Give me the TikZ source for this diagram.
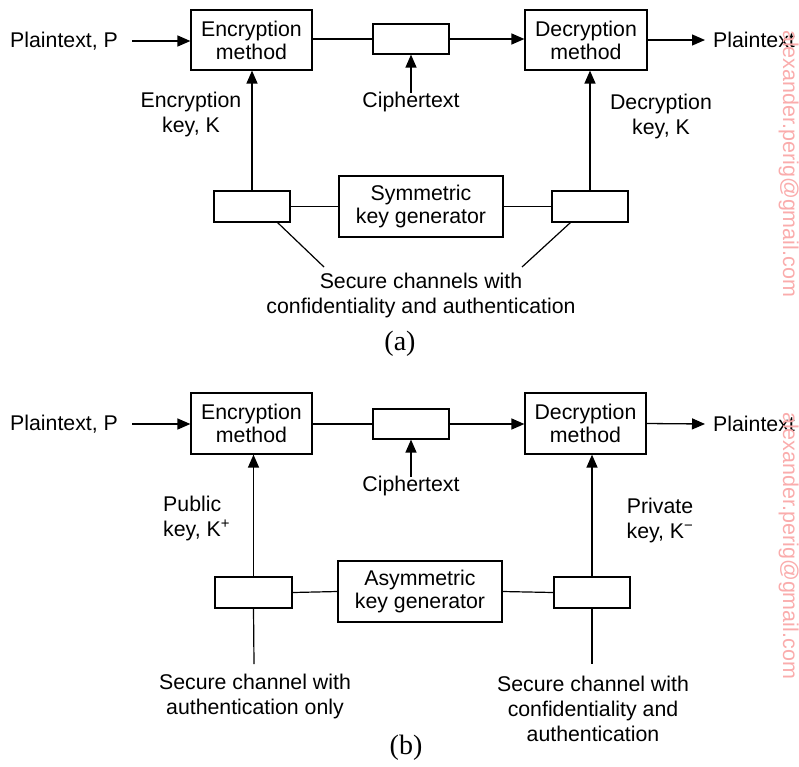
\documentclass[tikz,border=0pt]{standalone}
\usepackage{fontspec}
\setmainfont{Liberation Sans}
\newfontfamily\capfont{Liberation Serif}
\usetikzlibrary{arrows.meta}
\definecolor{wm}{RGB}{250,172,172}
\begin{document}
\begin{tikzpicture}[x=1pt,y=-1pt,
  every node/.style={font=\fontsize{21.3}{25}\selectfont},
  box/.style={draw, line width=1.2pt, inner sep=0pt, align=center},
  lbl/.style={inner sep=2pt, align=center},
  conn/.style={line width=1.2pt},
  arr/.style={line width=1.3pt, -{Triangle[length=13pt,width=11pt]}},
  capt/.style={font=\capfont\fontsize{28}{30}\selectfont, inner sep=0pt},
  wmark/.style={text=wm, rotate=-90, anchor=base west, inner sep=0pt, font=\fontsize{21.5}{24}\selectfont}]
\useasboundingbox (0,0) rectangle (799,766);

% ---------------- (a) ----------------
\node[box, minimum width=121pt, minimum height=60pt] (enc) at (251.5,40) {Encryption\\[-2pt]method};
\node[box, minimum width=76pt, minimum height=30pt] (ct) at (411,39) {};
\node[box, minimum width=122pt, minimum height=60pt] (dec) at (586,40) {Decryption\\[-2pt]method};
\node[lbl, anchor=west] (pin) at (8,41) {Plaintext, P};
\node[lbl, anchor=west] (pout) at (711,40) {Plaintext};
\draw[arr] ([xshift=12pt]pin.east) -- (enc.west |- pin.east);
\draw[conn] (enc.east |- ct.west) -- (ct.west);
\draw[arr] (ct.east) -- (dec.west |- ct.east);
\draw[arr] (dec.east) -- ([xshift=-6pt]pout.west);
\node[lbl] (ctl) at (411,102) {Ciphertext};
\draw[arr] ([yshift=-3pt]ctl.north) -- (ct.south);
\node[lbl] (ekl) at (191,114) {Encryption\\key, K};
\node[lbl] (dkl) at (661,116) {Decryption\\key, K};
\node[box, minimum width=76pt, minimum height=31pt] (kl) at (252,206.5) {};
\node[box, minimum width=164pt, minimum height=61pt] (sym) at (421,206.5) {Symmetric\\[-2pt]key generator};
\node[box, minimum width=76pt, minimum height=31pt] (kr) at (590,206.5) {};
\draw[arr] (kl.north) -- (kl.north |- enc.south);
\draw[arr] (kr.north) -- (kr.north |- dec.south);
\draw[conn] (kl.east) -- (sym.west);
\draw[conn] (sym.east) -- (kr.west);
\node[lbl] (scl) at (421,295.5) {Secure channels with\\confidentiality and authentication};
\coordinate (d1) at (324,267);
\coordinate (d2) at (522,267);
\draw[conn] ([xshift=-13pt]kl.south east) -- (d1);
\draw[conn] ([xshift=19pt]kr.south west) -- (d2);
\node[capt] (capa) at (400,344) {(a)};

% ---------------- (b) ----------------
\node[box, minimum width=121pt, minimum height=61pt] (enc2) at (251.5,423.5) {Encryption\\[-2pt]method};
\node[box, minimum width=76pt, minimum height=30pt] (ct2) at (411,424) {};
\node[box, minimum width=121pt, minimum height=61pt] (dec2) at (585.5,423.5) {Decryption\\[-2pt]method};
\node[lbl, anchor=west] (pin2) at (8,424) {Plaintext, P};
\node[lbl, anchor=west] (pout2) at (711,424) {Plaintext};
\draw[arr] ([xshift=12pt]pin2.east) -- (enc2.west |- pin2.east);
\draw[conn] (enc2.east |- ct2.west) -- (ct2.west);
\draw[arr] (ct2.east) -- (dec2.west |- ct2.east);
\draw[arr] (dec2.east) -- ([xshift=-6pt]pout2.west);
\node[lbl] (ctl2) at (411,486) {Ciphertext};
\draw[arr] ([yshift=-3pt]ctl2.north) -- (ct2.south);
\node[lbl, align=left, anchor=west] (pkl) at (161,518.5) {Public\\key, K\textsuperscript{+}};
\node[lbl] (rkl) at (660,520) {Private\\key, K\textsuperscript{−}};
\node[box, minimum width=77pt, minimum height=31pt] (kl2) at (253.5,592.5) {};
\node[box, minimum width=164pt, minimum height=61pt] (asym) at (420,591.5) {Asymmetric\\[-2pt]key generator};
\node[box, minimum width=76pt, minimum height=31pt] (kr2) at (592,592.5) {};
\draw[arr] (kl2.north) -- (kl2.north |- enc2.south);
\draw[arr] (kr2.north) -- (kr2.north |- dec2.south);
\draw[conn] (kl2.east) -- (asym.west);
\draw[conn] (asym.east) -- (kr2.west);
\node[lbl] (scl2) at (255,696.5) {Secure channel with\\authentication only};
\node[lbl] (scr2) at (593,708.5) {Secure channel with\\confidentiality and\\authentication};
\coordinate (e1) at (254,664);
\coordinate (e2) at (592,664);
\draw[conn] (kl2.south) -- (e1);
\draw[conn] (kr2.south) -- (e2);
\node[capt] (capb) at (406,748) {(b)};

% ---------------- watermark ----------------
\node[wmark] (wm1) at (783,30) {alexander.perig@gmail.com};
\node[wmark] (wm2) at (783,412) {alexander.perig@gmail.com};
\end{tikzpicture}
\end{document}
